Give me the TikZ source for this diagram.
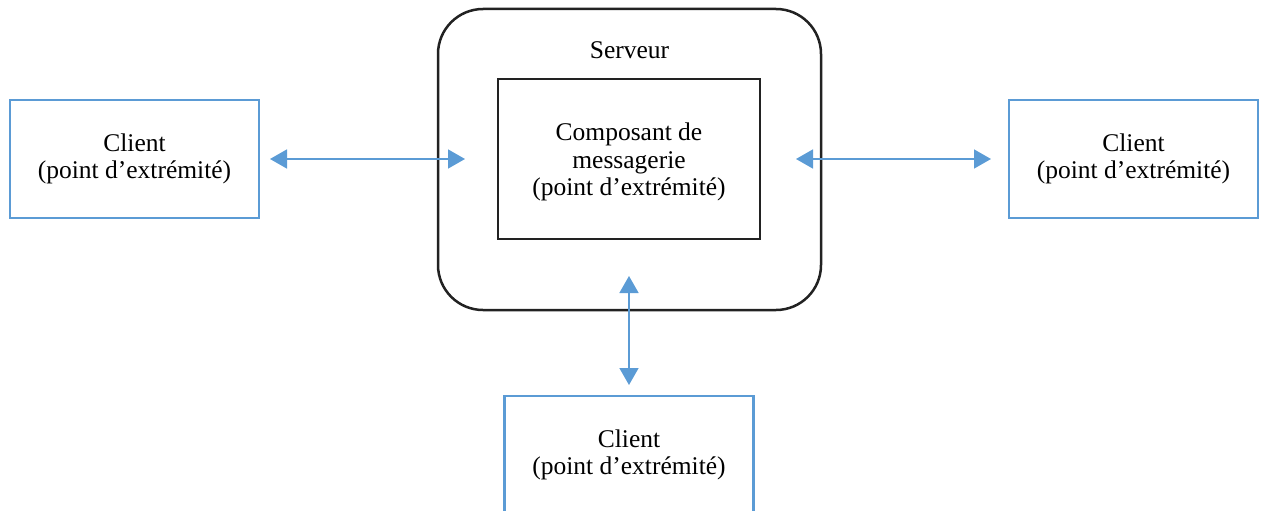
\documentclass[tikz,border=0pt]{standalone}
\usepackage{fontspec}
\setmainfont{Liberation Serif}
\usetikzlibrary{arrows.meta}
\definecolor{cblue}{HTML}{5B9BD5}
\definecolor{cdark}{HTML}{222222}
\begin{document}
\begin{tikzpicture}[x=1pt,y=-1pt,
  txt/.style={font=\fontsize{25.5}{27.5}\selectfont, align=center, text=black},
  clientbox/.style={draw=cblue, line width=2.2pt, minimum width=249pt, minimum height=118pt, inner sep=0pt, txt},
  link/.style={draw=cblue, line width=1.5pt, {Triangle[length=17pt,width=19pt]}-{Triangle[length=17pt,width=19pt]}}]
\useasboundingbox (0,0) rectangle (1261,511);
\begin{scope}
\clip (0,0) rectangle (1261,511);
\node[draw=cdark, line width=2.5pt, rounded corners=45pt, minimum width=383pt, minimum height=301pt, inner sep=0pt] (server) at (629.5,159.5) {};
\node[txt] (servlabel) at (629.5,50.5) {Serveur};
\node[draw=cdark, line width=2.2pt, minimum width=262pt, minimum height=160pt, inner sep=0pt] (comp) at (629,159) {};
\node[txt] (complabel) at (629,162) {Composant de\\messagerie\\(point d’extrémité)};
\node[clientbox] (cl) at (134.5,159) {Client\\(point d’extrémité)};
\node[clientbox] (cr) at (1133.5,159) {Client\\(point d’extrémité)};
\node[clientbox] (cb) at (629,455) {Client\\(point d’extrémité)};
\coordinate (la) at (270,159);
\coordinate (lb) at (465,159);
\coordinate (ra) at (796,159);
\coordinate (rb) at (991,159);
\coordinate (ba) at (629,276);
\coordinate (bb) at (629,385);
\draw[link] (la) -- (lb);
\draw[link] (ra) -- (rb);
\draw[link] (ba) -- (bb);
\end{scope}
\end{tikzpicture}
\end{document}
